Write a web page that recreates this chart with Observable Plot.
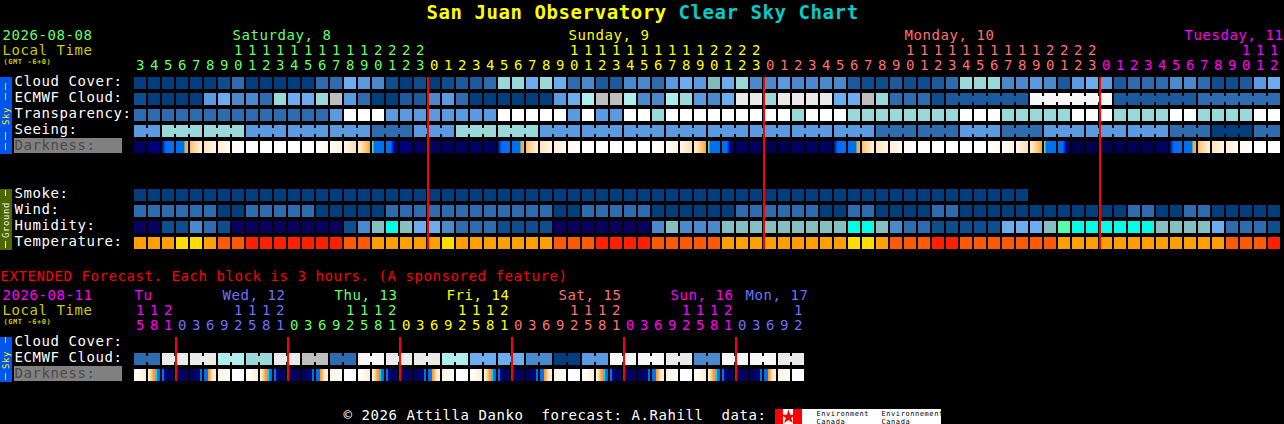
<!DOCTYPE html>
<html><head><meta charset="utf-8">
<style>html,body{margin:0;padding:0;background:#000;overflow:hidden}svg{display:block}</style>
<script src="https://cdn.jsdelivr.net/npm/d3@7"></script>
<script src="https://cdn.jsdelivr.net/npm/@observablehq/plot@0.6"></script>
</head><body>
<script>
// ---- data (levels) ----
const cloudCover = [0,0,0,0,0,0,1,3,0,0,0,0,0,3,3,6,5,4,1,0,1,
  0,1,2,2,3,7,7,6,7,6,3,4,2,2,4,4,3,5,6,5,13,6,7,4,4,5,4,4,4,4,2,
  1,1,2,1,1,2,3,7,7,7,4,4,5,4,2,5,6,5,2,3,3,3,4,4,3,1,1,2,5,6];
const ecmwfCloud = [1,0,0,0,0,5,6,4,4,3,7,6,6,7,9,5,3,0,0,2,2,
  4,5,3,0,0,0,0,0,0,5,6,8,9,9,8,4,4,8,7,5,4,6,10,10,7,10,10,10,10,6,6,
  9,7,3,3,3,1,2,2,2,2,2,2,11,11,11,11,11,11,2,2,2,2,2,2,3,3,3,3,3,3];
const ecmwfBlockStarts = [58,64,70,76];
const ecmwfBlockLength = 6;
const transparency = [3,3,3,3,3,3,3,3,3,3,3,3,3,3,5,12,12,12,5,5,5,
  5,5,5,5,5,12,12,12,12,12,5,12,5,5,12,12,7,12,12,12,12,12,12,12,12,12,7,12,12,12,7,
  7,7,7,7,7,7,7,12,12,12,7,7,7,7,7,12,12,12,7,7,7,7,12,12,7,7,7,7,12,12];
const seeingBlockSizes = [2,3,3,3,3,3,3,3,3,3,3,3,3,3,3,3,3,3,3,3,3,3,3,3,3,3,3,2];
const seeingBlockLevels = [5,7,7,5,5,5,3,5,7,7,5,5,5,5,5,5,5,5,3,3,5,3,5,5,5,3,0,3];
const smokeLevels = [0,0,0,0,0,0,0,0,0,0,0,0,0,0,0,0,0,0,0,0,0,0,0,0,0,0,0,0,0,0,0,0,
  0,0,0,0,0,0,0,0,0,0,0,0,0,0,0,0,0,0,0,0,0,0,0,0,0,0,0,0,0,0,0,0];
const windLevels = [3,3,3,3,3,3,0,0,3,3,3,3,3,0,0,0,0,0,3,3,3,
  3,3,3,3,3,3,3,3,3,0,0,3,3,3,3,3,0,0,0,0,0,0,3,3,3,3,3,3,0,0,3,
  3,0,0,0,0,3,3,0,0,0,0,0,0,0,0,0,0,0,0,3,3,0,0,3,3,0,0,0,0,0];
const humidityLevels = [14,14,1,1,4,3,1,14,14,14,14,14,14,14,14,1,4,15,16,15,6,
  6,4,3,3,3,1,1,1,1,14,14,14,14,14,14,14,4,15,4,4,4,15,15,15,15,15,15,15,15,15,16,
  16,15,4,3,3,1,1,1,1,1,6,6,6,15,17,16,16,16,16,16,16,15,15,15,15,6,3,3,3,1];
const temperatureLevels = [2,2,2,3,3,2,1,1,0,0,0,0,0,0,0,1,1,2,2,2,2,
  2,3,2,2,2,2,2,2,2,1,1,1,0,0,0,0,1,1,1,1,1,2,2,2,2,2,2,2,2,2,3,
  3,2,1,1,1,0,0,1,1,1,1,1,1,1,2,2,2,2,2,2,2,2,2,2,2,2,1,1,1,0];
const darknessMain = ["n1","n2","dawn1","dawn2","m1","m2","m3","m4","w","w","w","w","w","e0","e1","e2","e3","dusk1","dusk2","n2","n1",
  "n1","n1","n1","n1","n1","dawn1","dawn2","m1","m2","m3","m4","w","w","w","w","w","e0","e1","e2","e3","dusk1","dusk2","n1","n1",
  "n0","n0","n1","n1","n1","dawn1","dawn2","m1","m2","m3","m4","w","w","w","w","w","e0","e1","e2","e3","dusk1","dusk2",
  "n0","n0","n0","n0","n0","n0","n1","dawn1","dawn2","m1","m2","m3","m4","w","w"];
const hoursMain = [3,4,5,6,7,8,9,10,11,12,13,14,15,16,17,18,19,20,21,22,23,
  0,1,2,3,4,5,6,7,8,9,10,11,12,13,14,15,16,17,18,19,20,21,22,23,
  0,1,2,3,4,5,6,7,8,9,10,11,12,13,14,15,16,17,18,19,20,21,22,23,
  0,1,2,3,4,5,6,7,8,9,10,11,12];
const dayStartsMain = [0,21,45,69];
const dayNamesMain = ["Saturday, 8","Sunday, 9","Monday, 10","Tuesday, 11"];
const dayLabelColsMain = [7,31,55,75];
const dayColorsMain = ["#66FF66","#FFFF00","#FF7070","#FF00FF"];
const midnightsMain = [21,45,69];

const ecmwfExtended = [3,10,10,8,7,10,9,3,11,10,10,8,6,6,4,0,5,11,11,10,4,11,11,10];
const darknessExtended = ["xe","xs","xk","xn","xr","xu","xm","w","xe","xs","xk","xn","xr","xu","xm","w",
  "xe","xs","xk","xn","xr","xu","xm","w","xe","xs","xk","xn","xr","xu","xm","w",
  "xe","xs","xk","xn","xr","xu","xm","w","xe","xs","xk","xn","xr","xu","xm","w"];
const hoursExtended = [15,18,21,0,3,6,9,12,15,18,21,0,3,6,9,12,15,18,21,0,3,6,9,12,15,18,21,
  0,3,6,9,12,15,18,21,0,3,6,9,12,15,18,21,0,3,6,9,12];
const dayStartsExt = [0,3,11,19,27,35,43];
const dayNamesExt = ["Tu","Wed, 12","Thu, 13","Fri, 14","Sat, 15","Sun, 16","Mon, 17"];
const dayLabelColsExt = [0,6.29,14.29,22.29,30.29,38.29,43.64];
const dayColorsExt = ["#FF00FF","#7070FF","#66FF66","#FFFF00","#FF7070","#FF00FF","#7070FF"];
const midnightsExt = [3,11,19,27,35,43];

// ---- styles ----
const skyPalette = ["#003E7E","#0F4E8E","#1B5A9C","#2D6CAE","#4A89CC","#5A9AE0","#6CADF0","#99D9D9","#AFEEEE","#BEBEBE","#EAEAEA","#F7F7F7","#FFFFFF","#80BCBC","#0A0060","#85C0C0","#00FFE6","#55FFB0"];
const tempPalette = ["#FF2000","#FF5A00","#FFA000","#FFDD00"];
const darkStops = {
  n0:["#000050"], n1:["#000060"], n2:["#00007C"], w:["#FFFFFF"],
  m1:["#FFC070","#FFDDB0","#FFF0D8"], m2:["#FFE4BC","#FFF6E8"], m3:["#FFEFD6","#FFFAF2"], m4:["#FFF8F0","#FFFFFF"],
  e0:["#FFFFFF","#FFFAF2"], e1:["#FFFCF6","#FFF0DC"], e2:["#FFF6E8","#FFE0B4"], e3:["#FFEED4","#FFD090","#FFA838"],
  dawn1:["#0018A8","#0030B8","#0050D0","#006CEC","#0070F0","#0070F0","#0070F0","#0070F0","#0070F0","#0070F0","#0070F0","#0070F0"],
  dawn2:["#0070F0","#0070F0","#0070F0","#0070F0","#0070F0","#0070F0","#0070F0","#0070F0","#40B0A0","#FFA030","#FFA030","#FFB040"],
  dusk1:["#70D0A0","#00B8E0","#0070F0","#0070F0","#0070F0","#0070F0","#0070F0","#0070F0","#0070F0","#0070F0","#0070F0","#0070F0"],
  dusk2:["#0070F0","#0070F0","#0070F0","#0070F0","#0070F0","#0050D8","#0030C0","#0018A8","#0000A0","#000088","#000070","#000068"],
  xe:["#FFFFFF","#FFF8EC","#FFECD0"],
  xs:["#FFF4E0","#FFE8C8","#FFD8A0","#FFC880","#FFB860","#FFA030","#FFA030","#00D8F0","#00D8F0","#0070F0","#0070F0","#0070F0"],
  xk:["#0070F0","#0070F0","#000080","#0000A0","#000070","#000068","#000060","#000060","#000060","#000060","#000060","#000060"],
  xn:["#000060"],
  xr:["#000060","#000060","#000060","#000060","#000060","#000060","#000060","#000060","#000070","#0000A0","#0070F0","#0070F0"],
  xu:["#0070F0","#0070F0","#0070F0","#0070F0","#FFA030","#FFA030","#FFC070","#FFD8A0","#FFE4BC","#FFECD0","#FFF0D8","#FFF0D8"],
  xm:["#FFF5E5","#FFFFFF"]
};
const mono = "'DejaVu Sans Mono', 'Liberation Mono', monospace";
const FS = 14;

// ---- layout helpers: scale units are columns and rows ----
const CELL = 12/14, CELLH = 12/16;
const X = p => (p-134)/14, Y = p => (p-77)/16;
const rows = {cloud:0, ecmwf:1, transp:2, seeing:3, dark:4, smoke:7, wind:8, humid:9, temp:10,
  xcloud:Y(337), xecmwf:Y(353), xdark:Y(369)};

const blockSpread = (sizes, levels) => sizes.flatMap((n,i)=>Array(n).fill(levels[i]));
const seeingLevels = blockSpread(seeingBlockSizes, seeingBlockLevels);
const cellsOf = (levels,row,pal) => levels.map((v,col)=>({col,row,fill:pal[v]}));
const mainCells = [
  ...cellsOf(cloudCover,rows.cloud,skyPalette),
  ...cellsOf(ecmwfCloud,rows.ecmwf,skyPalette),
  ...cellsOf(transparency,rows.transp,skyPalette),
  ...cellsOf(seeingLevels,rows.seeing,skyPalette),
  ...cellsOf(smokeLevels,rows.smoke,skyPalette),
  ...cellsOf(windLevels,rows.wind,skyPalette),
  ...cellsOf(humidityLevels,rows.humid,skyPalette),
  ...cellsOf(temperatureLevels,rows.temp,tempPalette),
  ...cellsOf(blockSpread(ecmwfExtended.map(()=>2),ecmwfExtended),rows.xecmwf,skyPalette)
];
// joining tabs between cells of one multi-hour block
const joins = [];
const addJoins=(start,len,row,levels)=>{for(let c=start;c<start+len-1;c++)joins.push({col:c,row,fill:skyPalette[levels[c]]});};
{let s=0;for(const n of seeingBlockSizes){addJoins(s,n,rows.seeing,seeingLevels);s+=n;}}
for(const s of ecmwfBlockStarts)addJoins(s,ecmwfBlockLength,rows.ecmwf,ecmwfCloud);
{const lv=blockSpread(ecmwfExtended.map(()=>2),ecmwfExtended);ecmwfExtended.forEach((_,i)=>addJoins(i*2,2,rows.xecmwf,lv));}

const darkSlices = (codes,row)=>codes.flatMap((code,col)=>{
  const st=darkStops[code];
  const f=st.length===1?()=>st[0]:st.length===12?t=>st[Math.min(11,Math.floor(t*12))]:d3.piecewise(d3.interpolateRgb,st);
  return d3.range(12).map(k=>({x1:col+k/14,x2:col+(k+1)/14,row,fill:d3.rgb(f(st.length===12?(k+.5)/12:k/11)).formatHex()}));
});
const slices=[...darkSlices(darknessMain,rows.dark),...darkSlices(darknessExtended,rows.xdark)];

const colorFor=(starts,colors,col)=>colors[d3.bisectRight(starts,col)-1];
const hourTexts=(hours,starts,colors,tensY,onesY)=>hours.flatMap((h,col)=>{
  const c=colorFor(starts,colors,col), out=[{col:col+6/14,y:onesY,t:String(h%10),c}];
  if(h>=10) out.push({col:col+6/14,y:tensY,t:String(Math.floor(h/10)),c});
  return out;
});
const hourAll=[...hourTexts(hoursMain,dayStartsMain,dayColorsMain,Y(54),Y(69)),...hourTexts(hoursExtended,dayStartsExt,dayColorsExt,Y(314),Y(329))];
const dayLabels=[
  ...dayNamesMain.map((t,i)=>({t,col:dayLabelColsMain[i],y:Y(39),c:dayColorsMain[i]})),
  ...dayNamesExt.map((t,i)=>({t,col:dayLabelColsExt[i],y:Y(299),c:dayColorsExt[i]}))
];
const leftLabels=[
  ["Cloud Cover:",rows.cloud],["ECMWF Cloud:",rows.ecmwf],["Transparency:",rows.transp],["Seeing:",rows.seeing],
  ["Smoke:",rows.smoke],["Wind:",rows.wind],["Humidity:",rows.humid],["Temperature:",rows.temp],
  ["Cloud Cover:",rows.xcloud],["ECMWF Cloud:",rows.xecmwf]
].map(([t,row])=>({t,row}));
const darkLabels=[{t:"Darkness:",row:rows.dark},{t:"Darkness:",row:rows.xdark}];
const misc=[
  {t:"San Juan Observatory",x:426,y:18,c:"#FFFF00",s:19,w:"bold"},
  {t:"Clear Sky Chart",x:678,y:18,c:"#00CCCC",s:19,w:"bold"},
  {t:"2026-08-08",x:2,y:39,c:"#66FF66",s:FS},
  {t:"Local Time",x:2,y:54,c:"#CCCC00",s:FS},
  {t:"(GMT -6+0)",x:3,y:63,c:"#CCCC00",s:7,w:"bold"},
  {t:"EXTENDED Forecast. Each block is 3 hours. (A sponsored feature)",x:0,y:280,c:"#FF0000",s:FS},
  {t:"2026-08-11",x:2,y:299,c:"#FF00FF",s:FS},
  {t:"Local Time",x:2,y:314,c:"#CCCC00",s:FS},
  {t:"(GMT -6+0)",x:3,y:323,c:"#CCCC00",s:7,w:"bold"},
  {t:"© 2026 Attilla Danko  forecast: A.Rahill  data:",x:343,y:419,c:"#FFFFFF",s:FS},
  {t:"Environment",x:816,y:415.5,c:"#000000",s:7},
  {t:"Canada",x:816,y:423,c:"#000000",s:7},
  {t:"Environnement",x:881,y:415.5,c:"#000000",s:7},
  {t:"Canada",x:881,y:423,c:"#000000",s:7}
];
const panels=[
  {x1:0,x2:12,y1:77,y2:154,c:"#0055EE"},
  {x1:0,x2:12,y1:189,y2:250,c:"#4D6600"},
  {x1:0,x2:12,y1:337,y2:382,c:"#0055EE"},
  {x1:14,x2:122,y1:138,y2:153,c:"#808080"},
  {x1:14,x2:122,y1:366,y2:381,c:"#808080"},
  {x1:775,x2:941,y1:409,y2:424,c:"#FFFFFF"},
  {x1:775,x2:783,y1:409,y2:424,c:"#FF0000"},
  {x1:793,x2:802,y1:409,y2:424,c:"#FF0000"},
  // dash ornaments in the vertical side bars
  ...[[83,90],[93,100],[132,140],[143,150],[337,343],[373,380]].map(([y1,y2])=>({x1:5,x2:6,y1,y2,c:"#FFEE00"})),
  ...[[190,196],[241,248]].map(([y1,y2])=>({x1:5,x2:6,y1,y2,c:"#F4F4F4"}))
];
const sideText=[
  {t:"Sky",y:115.5,c:"#FFEE00"},
  {t:"Ground",y:219.5,c:"#F4F4F4"},
  {t:"Sky",y:359.5,c:"#FFEE00"}
];
const reds=[
  ...midnightsMain.map(col=>({col,r1:Y(77),r2:Y(249)})),
  ...midnightsExt.map(col=>({col,r1:Y(337),r2:Y(381)}))
];

const text=(data,opts)=>Plot.text(data,{fontFamily:mono,textAnchor:"start",lineAnchor:"bottom",...opts});

const chart=Plot.plot({
  width:1284,height:424,margin:0,
  style:{background:"#000",display:"block"},
  x:{domain:[X(0),X(1284)],range:[0,1284],axis:null},
  y:{domain:[Y(0),Y(424)],range:[0,424],axis:null},
  color:{type:"identity"},
  marks:[
    Plot.rect(panels,{x1:d=>X(d.x1),x2:d=>X(d.x2),y1:d=>Y(d.y1),y2:d=>Y(d.y2),fill:"c",shapeRendering:"crispEdges"}),
    Plot.rect(mainCells,{x1:"col",x2:d=>d.col+CELL,y1:"row",y2:d=>d.row+CELLH,fill:"fill",shapeRendering:"crispEdges"}),
    Plot.rect(joins,{x1:d=>d.col+CELL,x2:d=>d.col+1,y1:d=>d.row+3/16,y2:d=>d.row+9/16,fill:"fill",shapeRendering:"crispEdges"}),
    Plot.rect(slices,{x1:"x1",x2:"x2",y1:"row",y2:d=>d.row+CELLH,fill:"fill",shapeRendering:"crispEdges"}),
    Plot.rect(reds,{x1:d=>d.col-1/14,x2:d=>d.col+1/14,y1:"r1",y2:"r2",fill:"#FF0000",shapeRendering:"crispEdges"}),
    text(hourAll,{x:"col",y:"y",text:"t",fill:"c",fontSize:FS,textAnchor:"middle"}),
    text(dayLabels,{x:"col",y:"y",text:"t",fill:"c",fontSize:FS}),
    text(leftLabels,{x:()=>X(14),y:"row",text:"t",fill:"#FFFFFF",fontSize:FS,dy:8.5}),
    text(darkLabels,{x:()=>X(14),y:"row",text:"t",fill:"#4A4A4A",fontSize:FS,dy:8.5}),
    ...misc.map(m=>text([m],{x:d=>X(d.x),y:d=>Y(d.y),text:"t",fill:"c",fontSize:m.s,fontWeight:m.w||"normal"})),
    Plot.text(sideText,{x:()=>X(6),y:d=>Y(d.y),text:"t",fill:"c",fontFamily:mono,fontSize:9,rotate:-90}),
    Plot.dot([{x:788,y:416.5}],{x:d=>X(d.x),y:d=>Y(d.y),symbol:"star",r:4.5,fill:"#FF0000"})
  ]
});
chart.style.letterSpacing="0.57px";
document.body.appendChild(chart);
</script>
</body></html>
